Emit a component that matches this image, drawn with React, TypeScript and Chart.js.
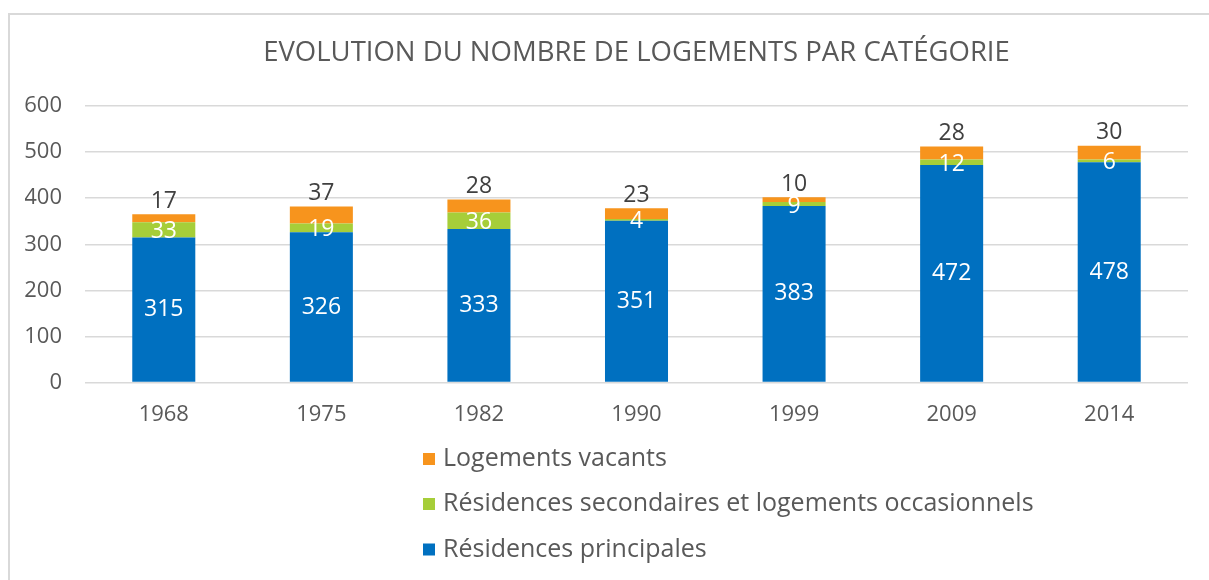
import React, { useEffect, useRef } from "react";
import { Chart, registerables } from "chart.js";

Chart.register(...registerables);

const years = ["1968", "1975", "1982", "1990", "1999", "2009", "2014"];
const principales = [315, 326, 333, 351, 383, 472, 478];
const secondaires = [33, 19, 36, 4, 9, 12, 6];
const vacants = [17, 37, 28, 23, 10, 28, 30];

const seriesNames = [
  "Résidences principales",
  "Résidences secondaires et logements occasionnels",
  "Logements vacants",
];
const seriesColors = ["#0070C0", "#A6CE39", "#F7941D"];
const labelColors = ["#FFFFFF", "#FFFFFF", "#404040"];
const titleText = "EVOLUTION DU NOMBRE DE LOGEMENTS PAR CATÉGORIE";
const yTicks = [0, 100, 200, 300, 400, 500, 600];

const FONT = "'Open Sans', sans-serif";
const TEXT = "#595959";

const valueLabelPlugin = {
  id: "valueLabels",
  afterDatasetsDraw(chart: any) {
    const ctx = chart.ctx;
    ctx.save();
    ctx.font = `23px ${FONT}`;
    ctx.textAlign = "center";
    ctx.textBaseline = "middle";
    chart.data.datasets.forEach((ds: any, di: number) => {
      const meta = chart.getDatasetMeta(di);
      meta.data.forEach((bar: any, i: number) => {
        const v = ds.data[i];
        const { x, y, base } = bar.getProps(["x", "y", "base"], true);
        let ty = (y + base) / 2;
        if (di === 1) ty += 2;
        if (di === 2) ty = y - 13;
        ctx.fillStyle = labelColors[di];
        ctx.fillText(String(v), x, ty);
      });
    });
    ctx.restore();
  },
};

const legendPlugin = {
  id: "stackLegend",
  afterDraw(chart: any) {
    const ctx = chart.ctx;
    const left = 413;
    const rows = [444, 489, 534.5];
    ctx.save();
    ctx.font = `25px ${FONT}`;
    ctx.textAlign = "left";
    ctx.textBaseline = "middle";
    const order = [2, 1, 0];
    order.forEach((di, r) => {
      ctx.fillStyle = seriesColors[di];
      ctx.fillRect(left, rows[r] - 6, 12, 12);
      ctx.fillStyle = TEXT;
      ctx.fillText(seriesNames[di], left + 20, rows[r]);
    });
    ctx.restore();
  },
};

export default function App() {
  const ref = useRef<HTMLCanvasElement>(null);
  useEffect(() => {
    if (!ref.current) return;
    const datasets = [principales, secondaires, vacants].map((d, i) => ({
      label: seriesNames[i],
      data: d,
      backgroundColor: seriesColors[i],
      borderWidth: 0,
      barPercentage: 0.4,
      categoryPercentage: 1,
    }));
    const chart = new Chart(ref.current, {
      type: "bar",
      data: { labels: years, datasets },
      options: {
        animation: false,
        responsive: false,
        maintainAspectRatio: false,
        layout: { padding: { left: 15, right: 21, top: 0, bottom: 141 } },
        plugins: {
          legend: { display: false },
          tooltip: { enabled: false },
          title: {
            display: true,
            text: titleText,
            fullSize: false,
            color: TEXT,
            font: { family: FONT, size: 27.5, weight: "normal", lineHeight: 1.2 },
            padding: { top: 22, bottom: 36 },
          },
        },
        scales: {
          x: {
            stacked: true,
            grid: { display: false },
            border: { display: false },
            ticks: { color: TEXT, font: { family: FONT, size: 22 }, padding: 11 },
          },
          y: {
            stacked: true,
            min: 0,
            max: 600,
            afterFit: (s: any) => {
              s.width = 60;
            },
            afterBuildTicks: (s: any) => {
              s.ticks = yTicks.map((v) => ({ value: v }));
            },
            grid: { color: "#D9D9D9", lineWidth: 1.5, drawTicks: false },
            border: { display: false },
            ticks: { color: TEXT, font: { family: FONT, size: 22 }, padding: 23 },
          },
        },
      },
      plugins: [valueLabelPlugin, legendPlugin],
    });
    return () => chart.destroy();
  }, []);
  return (
    <div
      style={{
        position: "absolute",
        left: 8,
        top: 13,
        width: 1201,
        height: 567,
        borderTop: "2px solid #D9D9D9",
        borderLeft: "2px solid #D9D9D9",
        boxSizing: "border-box",
        background: "#fff",
      }}
    >
      <canvas ref={ref} width={1199} height={565} style={{ display: "block" }} />
    </div>
  );
}
